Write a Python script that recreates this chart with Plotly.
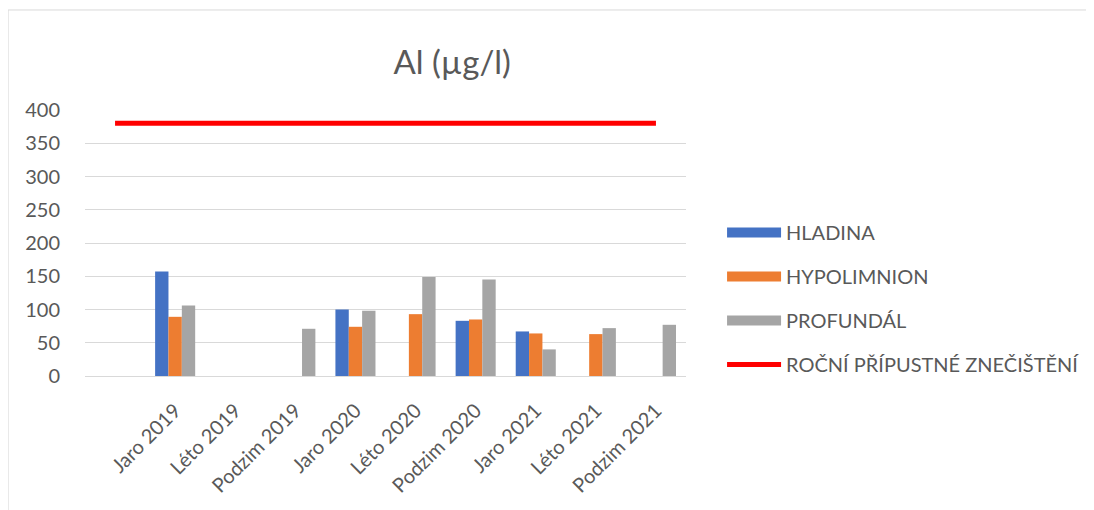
import plotly.graph_objects as go

# categories (first slot is an empty category in the source chart)
categories = ["", "Jaro 2019", "Léto 2019", "Podzim 2019", "Jaro 2020", "Léto 2020",
              "Podzim 2020", "Jaro 2021", "Léto 2021", "Podzim 2021"]
hladina = [None, 157, None, None, 100, None, 83, 67, None, None]
hypolimnion = [None, 89, None, None, 74, 93, 85, 64, 63, None]
profundal = [None, 106, None, 71, 98, 149, 145, 40, 72, 77]
limit = [380, 380, 380, 380, 380, 380, 380, 380, 380, 380]
y_ticks = [0, 50, 100, 150, 200, 250, 300, 350, 400]

FONT = "Lato"
GREY_TEXT = "#595959"
x_pos = list(range(len(categories)))

fig = go.Figure()

series = [
    ("HLADINA", hladina, "#4472C4"),
    ("HYPOLIMNION", hypolimnion, "#ED7D31"),
    ("PROFUNDÁL", profundal, "#A5A5A5"),
]
for name, vals, color in series:
    fig.add_trace(go.Bar(x=x_pos, y=vals, name=name, marker=dict(color=color, line=dict(width=0)),
                         showlegend=False))
    # legend stand-in: wide flat swatch like the Excel legend
    fig.add_trace(go.Scatter(x=[None], y=[None], mode="lines", name=name,
                             line=dict(color=color, width=14), legendgroup=name))

fig.add_trace(go.Scatter(x=x_pos, y=limit, mode="lines", name="ROČNÍ PŘÍPUSTNÉ ZNEČIŠTĚNÍ",
                         line=dict(color="#FF0000", width=5), legendgroup="limit"))

fig.update_layout(
    width=1094, height=510,
    margin=dict(l=77, r=416, t=102, b=142),
    paper_bgcolor="white", plot_bgcolor="white",
    font=dict(family=FONT, size=20, color=GREY_TEXT),
    barmode="group", bargap=1 / 3, bargroupgap=0,
    title=dict(text="Al (µg/l)", x=0.611, xref="paper", xanchor="center",
               y=0.894, yref="container", yanchor="middle",
               font=dict(family=FONT, size=33, color=GREY_TEXT)),
    legend=dict(x=1.06, xanchor="left", y=0.613, yanchor="top", tracegroupgap=15,
                font=dict(family=FONT, size=20, color=GREY_TEXT), itemwidth=54),
    shapes=[dict(type="rect", xref="paper", yref="paper", x0=-0.128, x1=1.8, y0=-0.6, y1=1.376,
                 line=dict(color="#D9D9D9", width=1))],
)

fig.update_xaxes(
    range=[-0.5, len(categories) - 0.5],
    tickmode="array", tickvals=x_pos, ticktext=categories,
    tickangle=-45, ticks="outside", ticklen=14, tickcolor="rgba(0,0,0,0)",
    showgrid=False, showline=True, linecolor="#D9D9D9", linewidth=1, zeroline=False,
    tickfont=dict(family=FONT, size=20, color=GREY_TEXT),
)
fig.update_yaxes(
    range=[0, 400], tickmode="array", tickvals=y_ticks,
    ticks="outside", ticklen=20, tickcolor="rgba(0,0,0,0)",
    showgrid=True, gridcolor="#D9D9D9", gridwidth=1, zeroline=False, showline=False,
    tickfont=dict(family=FONT, size=20, color=GREY_TEXT),
)

fig.write_html("out.html")
